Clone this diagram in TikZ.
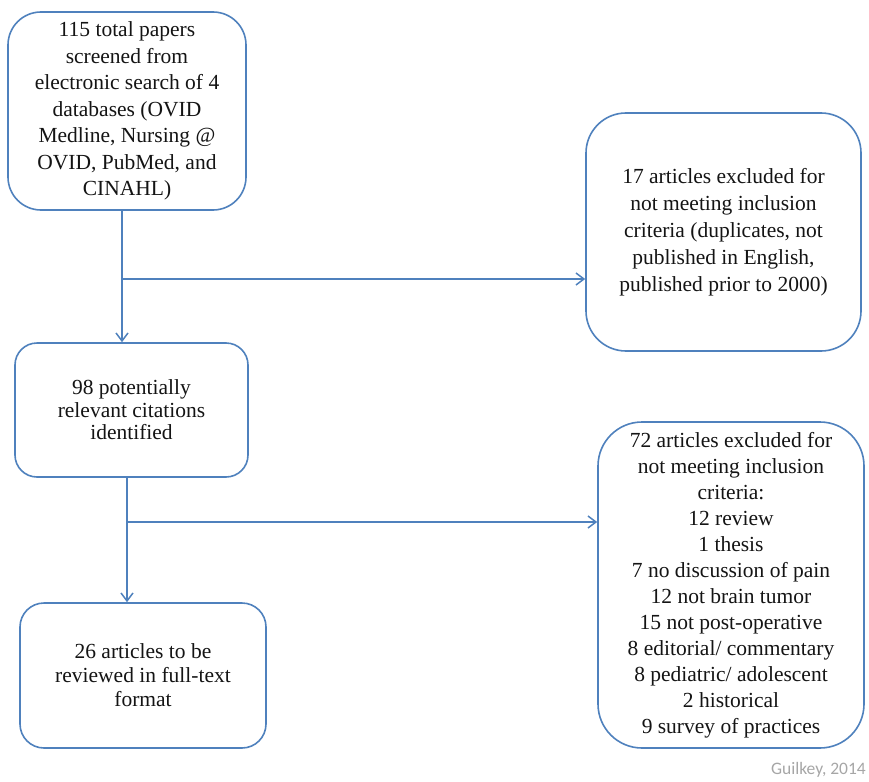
\documentclass[tikz,border=0pt]{standalone}
\usepackage{fontspec}
\setmainfont{Liberation Serif}
\newfontfamily\credfont{Carlito}
\usetikzlibrary{arrows.meta}
\definecolor{boxblue}{HTML}{4F81BD}
\definecolor{txt}{HTML}{141414}
\definecolor{credgray}{HTML}{A6A6A6}
\tikzset{
  fbox/.style={draw=boxblue, line width=1.6pt, fill=white, text=txt, align=center, inner sep=0pt, rectangle},
  conn/.style={draw=boxblue, line width=1.6pt},
  arr/.style={conn, -{Straight Barb[length=8pt,width=12pt,line width=1.5pt]}}
}
\begin{document}
\begin{tikzpicture}[x=1pt,y=-1pt]
\useasboundingbox (0,0) rectangle (869,781);
\node[fbox, minimum width=238, minimum height=198, rounded corners=33, font=\fontsize{21.5}{26.5}\selectfont] (A) at (127,111)
  {115 total papers\\screened from\\electronic search of 4\\databases (OVID\\Medline, Nursing @\\OVID, PubMed, and\\CINAHL)};
\node[fbox, minimum width=275, minimum height=238, rounded corners=40, font=\fontsize{21.5}{27}\selectfont] (B) at (723.5,232)
  {17 articles excluded for\\not meeting inclusion\\criteria (duplicates, not\\published in English,\\published prior to 2000)};
\node[fbox, minimum width=233, minimum height=134, rounded corners=22, font=\fontsize{21.5}{22.5}\selectfont] (C) at (131.5,410)
  {98 potentially\\relevant citations\\identified};
\node[fbox, minimum width=266, minimum height=326, rounded corners=44, font=\fontsize{21.5}{26}\selectfont] (D) at (731,585)
  {72 articles excluded for\\not meeting inclusion\\criteria:\\12 review\\1 thesis\\7 no discussion of pain\\12 not brain tumor\\15 not post-operative\\8 editorial/ commentary\\8 pediatric/ adolescent\\2 historical\\9 survey of practices};
\node[fbox, minimum width=246, minimum height=145, rounded corners=24, font=\fontsize{21.5}{24}\selectfont] (E) at (143,675.5)
  {26 articles to be\\reviewed in full-text\\format};
\node[text=credgray, font=\credfont\fontsize{17.5}{20}\selectfont, anchor=east, inner sep=0pt] (cred) at (866,770) {Guilkey, 2014};
\coordinate (a1) at (122,279);
\coordinate (c1) at (127,522);
\draw[arr] (a1 |- A.south) -- (a1 |- C.north);
\draw[arr] (a1) -- (a1 -| B.west);
\draw[arr] (c1 |- C.south) -- (c1 |- E.north);
\draw[arr] (c1) -- (c1 -| D.west);
\end{tikzpicture}
\end{document}
